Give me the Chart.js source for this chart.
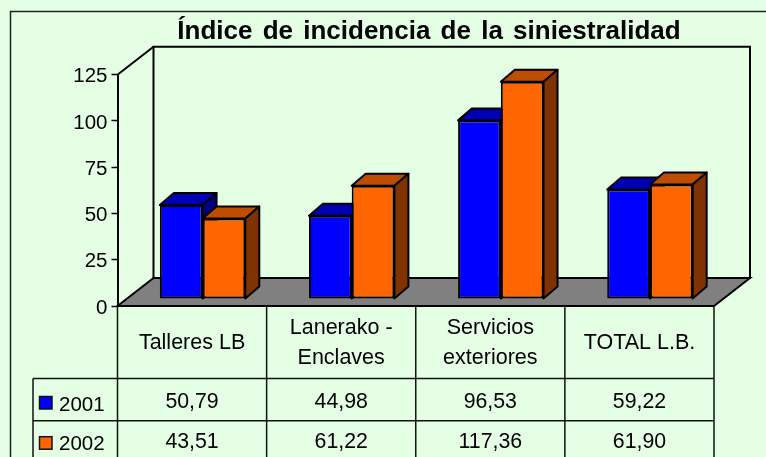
<!DOCTYPE html>
<html>
<head>
<meta charset="utf-8">
<title>Índice de incidencia de la siniestralidad</title>
<script src="https://cdn.jsdelivr.net/npm/chart.js@4/dist/chart.umd.min.js"></script>
<style>
  html, body { margin: 0; padding: 0; background: #e5ffe5; overflow: hidden; }
  canvas { display: block; }
</style>
</head>
<body>
<canvas id="chart" width="766" height="457"></canvas>
<script>
const TITLE = "Índice de incidencia de la siniestralidad";
const categories = ["Talleres LB", ["Lanerako -", "Enclaves"], ["Servicios", "exteriores"], "TOTAL L.B."];
const seriesNames = ["2001", "2002"];
const values2001 = [50.79, 44.98, 96.53, 59.22];
const values2002 = [43.51, 61.22, 117.36, 61.9];
const yTicks = [0, 25, 50, 75, 100, 125];

const FONT = '"Liberation Sans", Arial, sans-serif';
const INK = "#000";
const BG = "#e5ffe5";
const BLUE = { front: "#0000ff", top: "#0000b3", side: "#000080" };
const ORANGE = { front: "#ff6600", top: "#bf4d00", side: "#803300" };
const faces = [BLUE, ORANGE];

// depth of the box walls, of the bars inside it, and of one bar
const WALL_DX = 36, WALL_DY = 28;
const PLANE_DX = 10.5, PLANE_DY = 7;
const BAR_DX = 14, BAR_DY = 12;

function poly(ctx, pts, fill) {
  ctx.beginPath();
  pts.forEach(([x, y], i) => (i ? ctx.lineTo(x, y) : ctx.moveTo(x, y)));
  ctx.closePath();
  if (fill) {
    ctx.fillStyle = fill;
    ctx.fill();
  }
  ctx.stroke();
}

const box3d = {
  id: "box3d",
  afterLayout(chart) {
    // title sits further right than the canvas centre, with wider word gaps
    const block = chart.titleBlock;
    const draw = block.draw;
    block.left += 144;
    block.draw = function () {
      this.ctx.wordSpacing = "3px";
      draw.apply(this, arguments);
      this.ctx.wordSpacing = "0px";
    };
  },
  beforeDatasetsDraw(chart) {
    const { ctx, chartArea: a } = chart;
    ctx.save();
    ctx.strokeStyle = INK;
    ctx.lineWidth = 2;
    ctx.lineJoin = "miter";
    // back wall + left wall edge
    poly(ctx, [[a.left + WALL_DX, a.top - WALL_DY], [a.right + WALL_DX, a.top - WALL_DY], [a.right + WALL_DX, a.bottom - WALL_DY], [a.left + WALL_DX, a.bottom - WALL_DY]], BG);
    ctx.beginPath();
    ctx.moveTo(a.left, a.top);
    ctx.lineTo(a.left + WALL_DX, a.top - WALL_DY);
    ctx.stroke();
    // floor
    poly(ctx, [[a.left, a.bottom], [a.left + WALL_DX, a.bottom - WALL_DY], [a.right + WALL_DX, a.bottom - WALL_DY], [a.right, a.bottom]], "#808080");

    // bars live on a plane behind the axis, 2001 first so 2002 overlaps its side
    ctx.translate(PLANE_DX, -PLANE_DY);
    ctx.lineWidth = 2;
    ctx.lineJoin = "round";
    seriesNames.forEach((name, index) => {
      const face = faces[index];
      chart.getDatasetMeta(index).data.forEach((bar) => {
        const l = bar.x - bar.width / 2, r = bar.x + bar.width / 2;
        poly(ctx, [[l, bar.y], [l + BAR_DX, bar.y - BAR_DY], [r + BAR_DX, bar.y - BAR_DY], [r, bar.y]], face.top);
        poly(ctx, [[r, bar.y], [r + BAR_DX, bar.y - BAR_DY], [r + BAR_DX, bar.base - BAR_DY], [r, bar.base]], face.side);
        bar.draw(ctx);
      });
    });
    ctx.restore();
  },
  beforeDatasetDraw() {
    return false; // already drawn above, in back-to-front order
  },
  afterDraw(chart) {
    const { ctx, chartArea: a, scales, width, height } = chart;
    const x = scales.x;
    const half = (x.getPixelForTick(1) - x.getPixelForTick(0)) / 2;
    const rowTop = [378.5, 420.8, 463];
    const tableLeft = 33;
    ctx.save();
    // outer frame, only top and left fall inside the picture
    ctx.strokeStyle = "#222";
    ctx.lineWidth = 1.5;
    ctx.beginPath();
    ctx.moveTo(10.5, height);
    ctx.lineTo(10.5, 11.5);
    ctx.lineTo(width, 11.5);
    ctx.stroke();
    // front edge of the floor
    ctx.strokeStyle = INK;
    ctx.lineWidth = 2;
    ctx.beginPath();
    ctx.moveTo(a.left, a.bottom);
    ctx.lineTo(a.right, a.bottom);
    ctx.stroke();
    // table grid
    ctx.strokeStyle = "#111";
    ctx.lineWidth = 1.5;
    ctx.beginPath();
    rowTop.forEach((y) => {
      ctx.moveTo(tableLeft, y);
      ctx.lineTo(a.right, y);
    });
    ctx.moveTo(tableLeft, rowTop[0]);
    ctx.lineTo(tableLeft, height);
    ctx.moveTo(a.left, a.bottom);
    ctx.lineTo(a.left, height);
    categories.forEach((c, i) => {
      ctx.moveTo(x.getPixelForTick(i) + half, a.bottom);
      ctx.lineTo(x.getPixelForTick(i) + half, height);
    });
    ctx.stroke();
    // table rows
    ctx.textBaseline = "middle";
    [values2001, values2002].forEach((values, row) => {
      ctx.fillStyle = faces[row].front;
      ctx.lineWidth = 1.5;
      ctx.strokeStyle = "#111";
      const my = [396.5, 436.7][row];
      ctx.fillRect(39.5, my, 12.5, 12.5);
      ctx.strokeRect(39.5, my, 12.5, 12.5);
      ctx.fillStyle = INK;
      ctx.font = "20.5px " + FONT;
      ctx.textAlign = "left";
      ctx.fillText(seriesNames[row], 59, [405, 444][row]);
      ctx.font = "21.3px " + FONT;
      ctx.textAlign = "center";
      values.forEach((v, i) => {
        ctx.fillText(v.toFixed(2).replace(".", ","), x.getPixelForTick(i), [402.5, 442][row]);
      });
    });
    ctx.restore();
  },
};

new Chart(document.getElementById("chart"), {
  type: "bar",
  data: {
    labels: categories,
    datasets: [
      { label: seriesNames[0], data: values2001, backgroundColor: BLUE.front },
      { label: seriesNames[1], data: values2002, backgroundColor: ORANGE.front },
    ],
  },
  options: {
    responsive: false,
    animation: false,
    devicePixelRatio: 1,
    categoryPercentage: 0.573,
    barPercentage: 1,
    borderWidth: 2,
    borderColor: INK,
    borderSkipped: false,
    layout: { padding: { top: 14, right: 52, left: 0, bottom: 0 } },
    plugins: {
      legend: { display: false },
      tooltip: { enabled: false },
      title: {
        display: true,
        text: TITLE,
        color: INK,
        font: { family: FONT, size: 26, weight: "bold", lineHeight: 1.2 },
        padding: { top: 2.5, bottom: 27 },
      },
    },
    scales: {
      x: {
        grid: { display: false },
        border: { display: false },
        ticks: {
          color: INK,
          font: { family: FONT, size: 21.5, lineHeight: 1.4 },
          padding: 14,
          maxRotation: 0,
          autoSkip: false,
          crossAlign: "center",
        },
        afterFit(scale) { scale.height = 151; },
      },
      y: {
        min: 0,
        max: yTicks[yTicks.length - 1],
        afterBuildTicks(scale) { scale.ticks = yTicks.map((value) => ({ value })); },
        grid: { drawOnChartArea: false, tickLength: 6, tickColor: INK, tickWidth: 1.5 },
        border: { color: INK, width: 2 },
        ticks: { color: INK, font: { family: FONT, size: 20.5 }, padding: 4, labelOffset: 2 },
        afterFit(scale) { scale.width = 117.5; },
      },
    },
  },
  plugins: [box3d],
});
</script>
</body>
</html>
